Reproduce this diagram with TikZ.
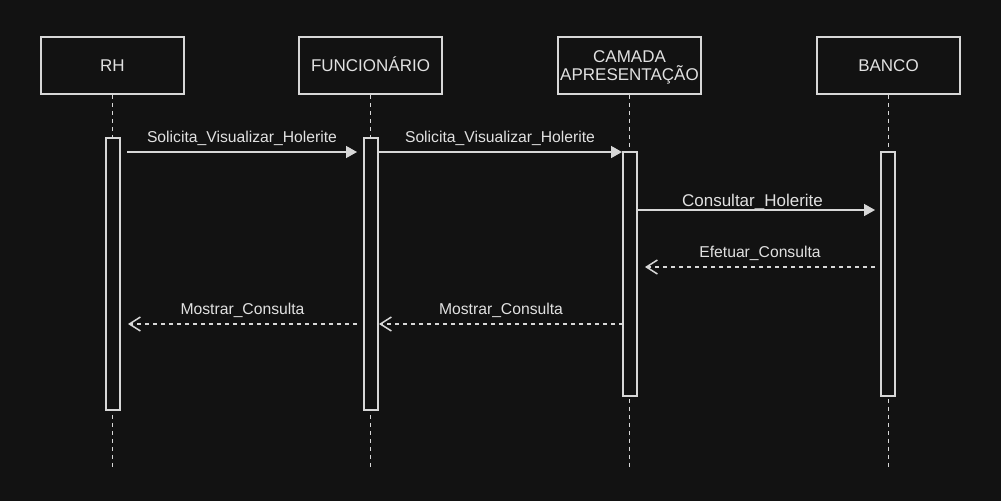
\documentclass[tikz,border=0pt]{standalone}
\usepackage{fontspec}
\setmainfont{Liberation Sans}
\usetikzlibrary{arrows.meta,calc}
\definecolor{bg}{RGB}{18,18,18}
\definecolor{fg}{RGB}{215,215,215}
\definecolor{tx}{RGB}{225,225,225}
\begin{document}
\begin{tikzpicture}[x=1pt,y=-1pt,
  font=\fontsize{15.7}{18.7}\selectfont, text=tx,
  actor/.style={draw=fg, line width=1.5pt, fill=bg, minimum width=143pt, minimum height=57pt, inner sep=0pt, align=center, text depth=0pt, font=\fontsize{17}{18.7}\selectfont},
  single/.style={text height=12.2pt},
  act/.style={draw=fg, line width=1.5pt, fill=bg, minimum width=14pt, inner sep=0pt},
  life/.style={draw=fg, line width=1.5pt, dash pattern=on 4pt off 4pt},
  sync/.style={draw=fg, line width=1.5pt, -{Triangle[length=11pt,width=12pt]}},
  ret/.style={draw=fg, line width=1.5pt, dash pattern=on 4pt off 4pt, -{Straight Barb[length=11pt,width=14pt]}},
  lbl/.style={midway, anchor=base, inner sep=0pt, yshift=9.5pt}]
\fill[bg] (0,0) rectangle (1001,501);
\useasboundingbox (0,0) rectangle (1001,501);

% actors
\node[actor, single] (rh)  at (112.5,65.5) {RH};
\node[actor, single] (fun) at (370.5,65.5) {FUNCIONÁRIO};
\node[actor] (cam) at (629.5,65.5) {CAMADA\\APRESENTAÇÃO};
\node[actor, single] (ban) at (888.5,65.5) {BANCO};

% lifeline ends
\coordinate (rhE)  at (112.5,468);
\coordinate (funE) at (370.5,468);
\coordinate (camE) at (629.5,468);
\coordinate (banE) at (888.5,468);
\draw[life] (rh.south) -- (rhE);
\draw[life] (fun.south) -- (funE);
\draw[life] (cam.south) -- (camE);
\draw[life] (ban.south) -- (banE);

% activations
\node[act, minimum height=272pt] (arh)  at (113,274) {};
\node[act, minimum height=272pt] (afun) at (371,274) {};
\node[act, minimum height=244pt] (acam) at (630,274) {};
\node[act, minimum height=244pt] (aban) at (888,274) {};

% message endpoints
\coordinate (m1s) at (127,152);   \coordinate (m1e) at (357,152);
\coordinate (m2s) at (378,152);   \coordinate (m2e) at (622,152);
\coordinate (m3s) at (637,210);   \coordinate (m3e) at (875,210);
\coordinate (m4s) at (875,267);   \coordinate (m4e) at (645,267);
\coordinate (m5s) at (623,324);   \coordinate (m5e) at (379,324);
\coordinate (m6s) at (357,324);   \coordinate (m6e) at (128,324);

\draw[sync] (m1s) -- node[lbl] {Solicita\_Visualizar\_Holerite} (m1e);
\draw[sync] (m2s) -- node[lbl] {Solicita\_Visualizar\_Holerite} (m2e);
\draw[sync] (m3s) -- node[lbl, xshift=-3.5pt, yshift=-5.5pt, font=\fontsize{17}{20}\selectfont] {Consultar\_Holerite} (m3e);
\draw[ret] (m4s) -- node[lbl] {Efetuar\_Consulta} (m4e);
\draw[ret] (m5s) -- node[lbl] {Mostrar\_Consulta} (m5e);
\draw[ret] (m6s) -- node[lbl] {Mostrar\_Consulta} (m6e);
\end{tikzpicture}
\end{document}
